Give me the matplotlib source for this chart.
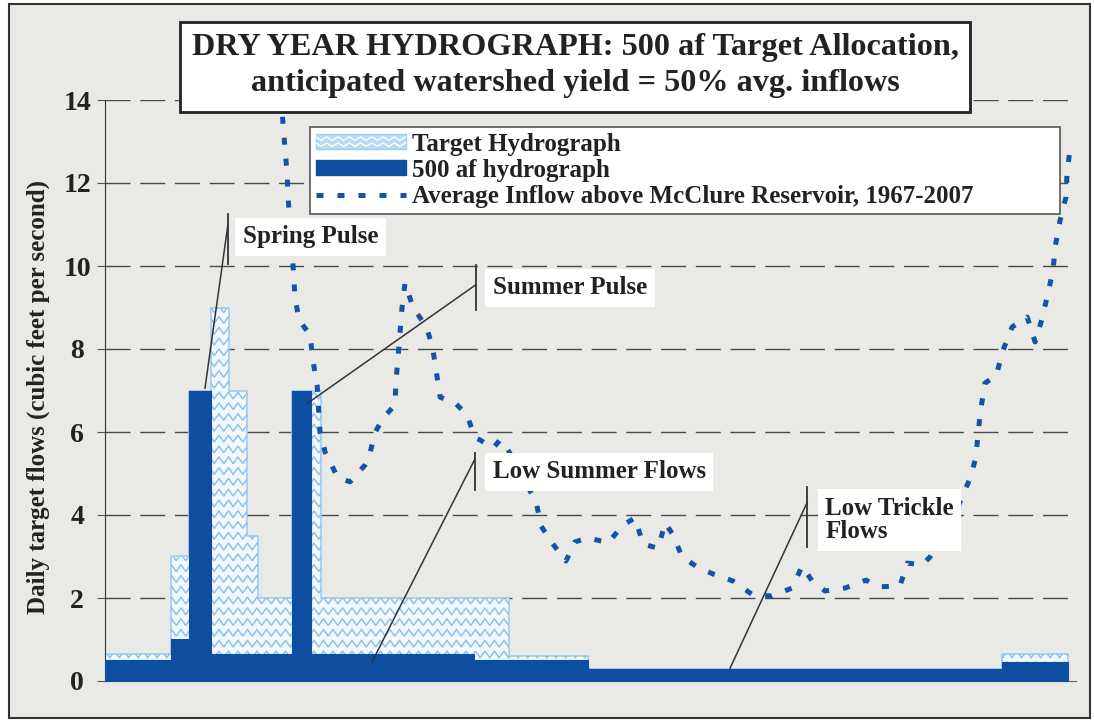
import numpy as np
import matplotlib
matplotlib.use("Agg")
import matplotlib.pyplot as plt
from matplotlib.patches import Rectangle, Patch
from matplotlib.lines import Line2D
from matplotlib.collections import LineCollection
from matplotlib.legend_handler import HandlerBase

# ---- data (day of year, cfs) ----
step_days = [0, 25, 32, 40, 47, 54, 58, 71, 78, 82, 140, 153, 183, 340, 365]
target_cfs = [0.65, 3.0, 7.0, 9.0, 7.0, 3.5, 2.0, 7.0, 7.0, 2.0, 2.0, 0.6, 0.3, 0.65]
alloc_cfs = [0.5, 1.0, 7.0, 0.65, 0.65, 0.65, 0.65, 7.0, 0.65, 0.65, 0.5, 0.5, 0.3, 0.45]

inflow_days = [66.7, 67.5, 68.2, 69.0, 69.4, 71.3, 72.0, 73.5, 77.7, 78.8, 80.4, 81.5,
               83.4, 88.3, 92.9, 98.5, 100.1, 102.3, 105.4, 109.9, 110.3, 111.1, 111.8,
               112.6, 113.7, 116.7, 122.0, 124.3, 126.2, 127.0, 132.7, 137.2, 140.2,
               142.1, 147.1, 149.7, 152.4, 163.4, 165.3, 169.4, 174.7, 178.1, 183.1,
               190.7, 196.3, 200.9, 203.9, 209.6, 212.3, 215.3, 218.7, 224.4, 230.4,
               238.0, 245.6, 252.8, 260.4, 264.2, 268.0, 272.9, 280.5, 288.4, 293.4,
               301.3, 304.0, 309.7, 312.7, 320.3, 327.9, 330.1, 330.9, 332.0, 333.5,
               337.7, 340.4, 343.8, 349.5, 352.5, 355.1, 357.4, 359.3, 360.1, 362.0,
               364.2, 364.6, 365.8]
inflow_cfs = [14.1, 13.40, 12.84, 12.24, 11.64, 9.98, 9.25, 8.70, 8.34, 7.73, 7.13, 5.98,
              5.52, 4.89, 4.80, 5.20, 5.40, 5.98, 6.34, 6.65, 7.25, 7.81, 8.39,
              9.01, 9.59, 9.01, 8.51, 7.98, 7.18, 6.84, 6.70, 6.41, 5.86,
              5.81, 5.61, 5.81, 5.61, 4.31, 3.73, 3.33, 2.89, 3.35, 3.45,
              3.33, 3.76, 3.93, 3.30, 3.20, 3.81, 3.52, 2.99, 2.75, 2.58,
              2.41, 2.07, 2.05, 2.24, 2.77, 2.41, 2.17, 2.24, 2.43, 2.27,
              2.29, 2.84, 2.80, 2.99, 3.76, 4.89, 5.40, 5.98, 6.58, 7.18,
              7.35, 7.98, 8.53, 8.77, 8.17, 8.72, 9.35, 9.90, 10.46, 11.11,
              11.66, 12.24, 12.84]

y_ticks = [0, 2, 4, 6, 8, 10, 12, 14]

title_lines = ["DRY YEAR HYDROGRAPH: 500 af Target Allocation,",
               "anticipated watershed yield = 50% avg. inflows"]
legend_labels = ["Target Hydrograph", "500 af hydrograph",
                 "Average Inflow above McClure Reservoir, 1967-2007"]
ylabel = "Daily target flows (cubic feet per second)"

# callouts: text, text anchor, leader line, short vertical tick
callouts = [
    ("Spring Pulse", (52.3, 10.7), [(37.9, 7.06), (46.6, 11.0)], [(46.6, 11.25), (46.6, 10.05)]),
    ("Summer Pulse", (147.0, 9.47), [(76.9, 6.7), (140.6, 9.55)], [(140.6, 10.02), (140.6, 8.94)]),
    ("Low Summer Flows", (147.0, 5.04), [(101.2, 0.46), (140.2, 5.35)], [(140.2, 5.49), (140.2, 4.6)]),
    ("Low Trickle\nFlows", (272.9, 3.88), [(236.9, 0.31), (266.1, 4.3)], [(266.1, 4.67), (266.1, 3.23)]),
]

# ---- styles ----
SERIF = ["Liberation Serif", "DejaVu Serif"]
BG = "#e9e9e6"
DARK = "#0d4ea0"
LIGHT = "#f3f8fd"
LIGHT_EDGE = "#9fcdf0"
WAVE = "#8ec2ec"
INFLOW = "#1553a8"
INK = "#222222"

W, H = 1094, 727
fig = plt.figure(figsize=(W / 100, H / 100), dpi=100, facecolor="white")
fig.patches.append(Rectangle((9 / W, 1 - 718 / H), 1081 / W, 714 / H, transform=fig.transFigure,
                             facecolor=BG, edgecolor="#333333", lw=1.5, zorder=-5))

ax_l, ax_r, ax_t, ax_b = 105, 1076, 100, 681
ax = fig.add_axes([ax_l / W, 1 - ax_b / H, (ax_r - ax_l) / W, (ax_b - ax_t) / H])
ax.set_facecolor(BG)
ax.set_xlim(0, 368)
ax.set_ylim(0, 14)

xs = np.array(step_days)
tgt = np.append(target_cfs, target_cfs[-1])
alc = np.append(alloc_cfs, alloc_cfs[-1])

tfill = ax.fill_between(xs, 0, tgt, step="post", facecolor=LIGHT, edgecolor=LIGHT_EDGE,
                        lw=1.2, zorder=2)

# zigzag texture clipped to the target hydrograph
period, amp = 3.6, 0.08
zx = np.arange(0, 370 + period, period / 2)
sign = np.where(np.arange(len(zx)) % 2 == 0, 1.0, -1.0)
segs = [np.column_stack([zx, r + amp * sign]) for r in np.arange(0.12, 9.6, 0.26)]
waves = LineCollection(segs, colors=WAVE, linewidths=1.1, zorder=2.1)
ax.add_collection(waves, autolim=False)
waves.set_clip_path(tfill.get_paths()[0], ax.transData)

ax.fill_between(xs, 0, alc, step="post", facecolor=DARK, edgecolor=DARK, lw=0.8, zorder=3)

ax.plot(inflow_days, inflow_cfs, color=INFLOW, lw=3.6, dashes=(1.4, 2.8),
        dash_capstyle="butt", zorder=4)

# axes styling
ax.set_axisbelow(True)
ax.yaxis.grid(True, color="#4a4a4a", lw=1.0, linestyle=(0, (18, 7)))
ax.set_yticks(y_ticks)
ax.set_xticks([])
for side in ("top", "right"):
    ax.spines[side].set_visible(False)
ax.spines["left"].set_color("#333333")
ax.spines["bottom"].set_color("#666666")
ax.tick_params(axis="y", length=6, color="#555555", pad=14)
for lab in ax.get_yticklabels():
    lab.set_fontfamily(SERIF)
    lab.set_fontweight("bold")
    lab.set_fontsize(20)
    lab.set_horizontalalignment("center")
    lab.set_color(INK)
ax.set_ylabel(ylabel, fontfamily=SERIF, fontweight="bold", fontsize=18, color=INK)
ax.yaxis.set_label_coords((50 - ax_l) / (ax_r - ax_l), 0.489)

# callouts
for text, (tx, ty), leader, tick in callouts:
    ax.plot(*zip(*leader), color="#333333", lw=1.1, zorder=6)
    ax.plot(*zip(*tick), color="#333333", lw=1.3, zorder=6)
    ax.text(tx, ty, text, ha="left", va="center", fontfamily=SERIF, fontweight="bold",
            fontsize=18, color=INK, linespacing=1.05, zorder=5,
            bbox=dict(boxstyle="square,pad=0.3", facecolor="white", edgecolor="none"))


# legend
class WaveHandler(HandlerBase):
    def create_artists(self, legend, orig_handle, xdescent, ydescent, width, height,
                       fontsize, trans):
        x0, y0 = -xdescent, -ydescent
        arts = [Rectangle((x0, y0), width, height, facecolor="#b9dbf4",
                          edgecolor=LIGHT_EDGE, lw=1, transform=trans)]
        n = int(width / 4) + 1
        hx = np.linspace(x0, x0 + width, n)
        hs = np.where(np.arange(n) % 2 == 0, 1.0, -1.0)
        for r in (0.3, 0.7):
            arts.append(Line2D(hx, y0 + height * r + hs * height * 0.12, color="white",
                               lw=1.0, transform=trans))
        return arts


wave_proxy = Patch()
handles = [wave_proxy, Patch(facecolor=DARK, edgecolor=DARK),
           Line2D([], [], color=INFLOW, lw=3.6, dashes=(1.4, 2.8))]
lx0 = (310 - ax_l) / (ax_r - ax_l)
lx1 = (1060 - ax_l) / (ax_r - ax_l)
ly1 = (ax_b - 127) / (ax_b - ax_t)
leg = ax.legend(handles, legend_labels, handler_map={wave_proxy: WaveHandler()},
                loc="upper left", bbox_to_anchor=(lx0, ly1 - 0.14, lx1 - lx0, 0.14),
                mode="expand", borderaxespad=0, frameon=True, fancybox=False,
                framealpha=1, edgecolor="#555555", handlelength=3.6, handleheight=0.55,
                handletextpad=0.25, labelspacing=0.13, borderpad=0.22,
                prop=dict(family=SERIF, weight="bold", size=18))
leg.get_frame().set_linewidth(1.2)
leg.set_zorder(7)
for t in leg.get_texts():
    t.set_color(INK)

# title box
fig.patches.append(Rectangle((180 / W, 1 - 112 / H), 790 / W, 90 / H, transform=fig.transFigure,
                             facecolor="white", edgecolor=INK, lw=2, zorder=8))
fig.text(575 / W, 1 - 47 / H, title_lines[0], ha="center", va="center", fontfamily=SERIF,
         fontweight="bold", fontsize=23.2, color=INK, zorder=9)
fig.text(575 / W, 1 - 83 / H, title_lines[1], ha="center", va="center", fontfamily=SERIF,
         fontweight="bold", fontsize=23.2, color=INK, zorder=9)

fig.savefig("out.png", dpi=100, facecolor=fig.get_facecolor())
